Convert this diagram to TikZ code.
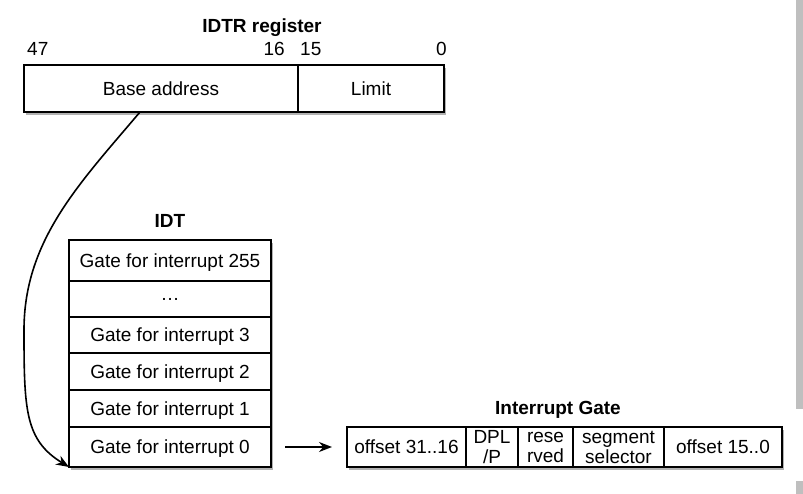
\documentclass[tikz,border=0pt]{standalone}
\usepackage{fontspec}
\setmainfont{Liberation Sans}
\usetikzlibrary{arrows.meta, positioning, shadows}

\begin{document}
\begin{tikzpicture}[x=1pt, y=-1pt,
    font=\fontsize{19}{20}\selectfont,
    cell/.style={draw, line width=1.8pt, fill=white, inner sep=0pt, outer sep=0pt, align=center,
        text depth=0pt,
        drop shadow={shadow xshift=2pt, shadow yshift=-3pt, fill=black!30, opacity=1}},
    bitnum/.style={inner sep=0pt},
    heading/.style={inner sep=0pt, font=\fontsize{19}{20}\selectfont\bfseries},
    link/.style={line width=1.6pt, -{Stealth[length=13pt, width=10pt]}}]
    \useasboundingbox (0,0) rectangle (803,494);

    % IDTR register
    \node[heading] (idtrtitle) at (262,28) {IDTR register};
    \node[cell, minimum width=274pt, minimum height=47pt] (base) at (161,88.5) {Base address};
    \node[cell, minimum width=146pt, minimum height=47pt, right=0pt of base] (limit) {Limit};
    \node[bitnum, anchor=west] (b47) at (27,49) {47};
    \node[bitnum, anchor=east] (b16) at (285,49) {16};
    \node[bitnum, anchor=west] (b15) at (300,49) {15};
    \node[bitnum, anchor=east] (b0) at (447,49) {0};

    % IDT
    \node[heading] (idttitle) at (170,221) {IDT};
    \node[cell, minimum width=202pt, minimum height=41pt] (g255) at (170,260.5) {Gate for interrupt 255};
    \node[cell, minimum width=202pt, minimum height=36pt, below=0pt of g255] (gdots) {\ldots};
    \node[cell, minimum width=202pt, minimum height=36pt, below=0pt of gdots] (g3) {Gate for interrupt 3};
    \node[cell, minimum width=202pt, minimum height=37pt, below=0pt of g3] (g2) {Gate for interrupt 2};
    \node[cell, minimum width=202pt, minimum height=37pt, below=0pt of g2] (g1) {Gate for interrupt 1};
    \node[cell, minimum width=202pt, minimum height=40pt, below=0pt of g1] (g0) {Gate for interrupt 0};

    % Interrupt gate
    \node[heading] (gatetitle) at (558,410) {Interrupt Gate};
    \node[cell, minimum width=119pt, minimum height=40pt] (off31) at (406.5,447) {offset 31..16};
    \node[cell, minimum width=52pt, minimum height=40pt, right=0pt of off31] (dpl) {DPL\\/P};
    \node[cell, minimum width=55pt, minimum height=40pt, right=0pt of dpl] (resv) {rese\\rved};
    \node[cell, minimum width=91pt, minimum height=40pt, right=0pt of resv] (segsel) {segment\\selector};
    \node[cell, minimum width=118pt, minimum height=40pt, right=0pt of segsel] (off15) {offset 15..0};

    % arrows
    \draw[link] ([xshift=-21pt]base.south) .. controls (80,183) and (24,240) .. (24,330)
        .. controls (24,410) and (25,440) .. (g0.south west);
    \draw[link, shorten <=14pt, shorten >=15pt] (g0) -- (off31);

    % scroll bar at the right edge
    \fill[black!25] (796,0) rectangle (803,409);
    \fill[black!25] (796,481) rectangle (803,494);
\end{tikzpicture}
\end{document}
